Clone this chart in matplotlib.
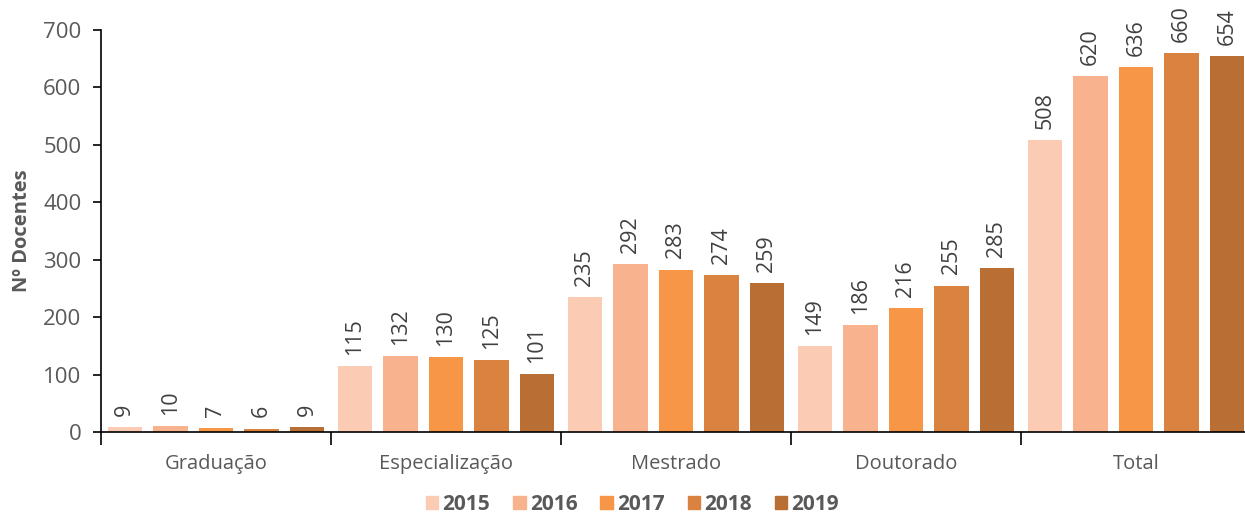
import numpy as np
import matplotlib.pyplot as plt
from matplotlib.patches import Patch

categories = ['Graduação', 'Especialização', 'Mestrado', 'Doutorado', 'Total']
years = ['2015', '2016', '2017', '2018', '2019']
v2015 = [9, 115, 235, 149, 508]
v2016 = [10, 132, 292, 186, 620]
v2017 = [7, 130, 283, 216, 636]
v2018 = [6, 125, 274, 255, 660]
v2019 = [9, 101, 259, 285, 654]
series = [v2015, v2016, v2017, v2018, v2019]
colors = ['#FBCCB3', '#F8B38E', '#F79646', '#DA8340', '#B96F34']

plt.rcParams['font.family'] = ['Open Sans', 'DejaVu Sans']
txt = '#595959'

fig = plt.figure(figsize=(12.45, 5.18), dpi=100)
ax = fig.add_axes([0.081, 0.166, 0.9237, 0.776])

x = np.arange(len(categories))
for i, vals in enumerate(series):
    xs = x + (i - 2) * 0.198
    bars = ax.bar(xs, vals, width=0.15, color=colors[i], label=years[i])
    for b, v in zip(bars, vals):
        ax.annotate(str(v), (b.get_x() + b.get_width() / 2, v), xytext=(0, 8),
                    textcoords='offset points', rotation=90, ha='center', va='bottom',
                    fontsize=15.5, color='#404040')

ax.set_xlim(-0.5, 4.5)
ax.set_ylim(0, 700)
ax.set_yticks(range(0, 701, 100))
ax.set_xticks(np.arange(-0.5, 4.6, 1))
ax.set_xticklabels([])
ax.set_xticks(x, minor=True)
ax.set_xticklabels(categories, minor=True)
ax.tick_params(axis='x', which='major', length=9, width=1.2, direction='out')
ax.tick_params(axis='x', which='minor', length=0, pad=16, labelsize=14.5, labelcolor=txt)
ax.tick_params(axis='y', length=6, width=1.2, labelsize=16, labelcolor=txt, pad=8)
for s in ['top', 'right']:
    ax.spines[s].set_visible(False)
ax.spines['left'].set_linewidth(1.2)
ax.spines['bottom'].set_linewidth(1.2)
ax.set_ylabel('Nº Docentes', fontsize=14.5, fontweight='bold', color=txt, labelpad=8)

handles = [Patch(color=c) for c in colors]
leg = fig.legend(handles, years, loc='lower center', bbox_to_anchor=(0.508, -0.03), ncol=5,
                 frameon=False, handlelength=0.6, handleheight=0.6, handletextpad=0.2,
                 columnspacing=1.1, prop={'weight': 'bold', 'size': 15})
for t in leg.get_texts():
    t.set_color(txt)

fig.savefig('out.png', dpi=100)
